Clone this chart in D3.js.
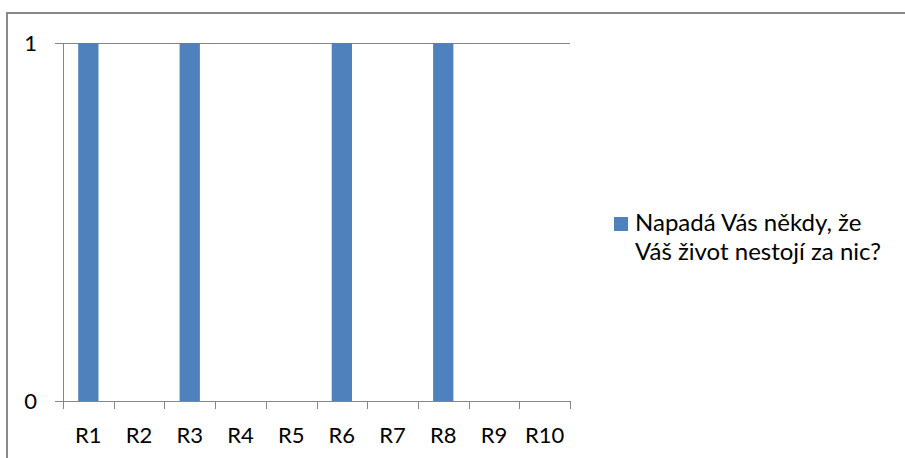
<!DOCTYPE html>
<html>
<head>
<meta charset="utf-8">
<script src="https://cdn.jsdelivr.net/npm/d3@7"></script>
<style>
  body { margin: 0; background: #fff; }
  text { font-family: Lato, "Open Sans", sans-serif; fill: #000; }
</style>
</head>
<body>
<svg id="chart" width="905" height="458"></svg>
<script>
//////////////////////////////////
// DATA
//////////////////////////////////

var categories = ["R1", "R2", "R3", "R4", "R5", "R6", "R7", "R8", "R9", "R10"];
var values = [1, 0, 1, 0, 0, 1, 0, 1, 0, 0];
var yTicks = [0, 1];
var legendLines = ["Napadá Vás někdy, že", "Váš život nestojí za nic?"];

//////////////////////////////////
// SETUP
//////////////////////////////////

var svg = d3.select("#chart");
var plot = {left: 63, right: 570, top: 43, bottom: 401};
var barColor = "#4F81BD";
var lineColor = "#868686";

// outer chart border (cut off at right and bottom in the original)
svg.append("rect")
  .attr("x", 7).attr("y", 13)
  .attr("width", 920).attr("height", 470)
  .attr("fill", "none")
  .attr("stroke", "#898989")
  .attr("stroke-width", 2);

var x = d3.scaleBand()
  .domain(categories)
  .range([plot.left, plot.right])
  .paddingInner(0.6)
  .paddingOuter(0.3);

var y = d3.scaleLinear()
  .domain([0, 1])
  .range([plot.bottom, plot.top]);

// boundaries between categories, for the tick marks
var edge = d3.scaleLinear()
  .domain([0, categories.length])
  .range([plot.left, plot.right]);

//////////////////////////////////
// GRID + AXES
//////////////////////////////////

svg.selectAll(".grid")
  .data(yTicks)
  .enter().append("line")
    .attr("x1", plot.left - 8)
    .attr("x2", plot.right)
    .attr("y1", function(d) { return Math.round(y(d)) + 0.5; })
    .attr("y2", function(d) { return Math.round(y(d)) + 0.5; })
    .attr("stroke", lineColor)
    .attr("stroke-width", 1);

svg.selectAll(".ylab")
  .data(yTicks)
  .enter().append("text")
    .attr("x", 37)
    .attr("y", function(d) { return y(d); })
    .attr("dy", "0.35em")
    .attr("text-anchor", "end")
    .style("font-size", "22px")
    .text(function(d) { return d; });

// bars
svg.selectAll(".bar")
  .data(categories)
  .enter().append("rect")
    .attr("x", function(d) { return x(d); })
    .attr("width", x.bandwidth())
    .attr("y", function(d, i) { return y(values[i]); })
    .attr("height", function(d, i) { return y(0) - y(values[i]); })
    .attr("fill", barColor);

// y axis line
svg.append("line")
  .attr("x1", plot.left + 0.5).attr("x2", plot.left + 0.5)
  .attr("y1", plot.top).attr("y2", plot.bottom)
  .attr("stroke", lineColor);

// x axis line + ticks
svg.append("line")
  .attr("x1", plot.left - 8).attr("x2", plot.right)
  .attr("y1", plot.bottom + 0.5).attr("y2", plot.bottom + 0.5)
  .attr("stroke", lineColor);

svg.selectAll(".xtick")
  .data(d3.range(categories.length + 1))
  .enter().append("line")
    .attr("x1", function(d) { return Math.round(edge(d)) + 0.5; })
    .attr("x2", function(d) { return Math.round(edge(d)) + 0.5; })
    .attr("y1", plot.bottom)
    .attr("y2", plot.bottom + 8)
    .attr("stroke", lineColor);

svg.selectAll(".xlab")
  .data(categories)
  .enter().append("text")
    .attr("x", function(d) { return x(d) + x.bandwidth() / 2; })
    .attr("y", 443)
    .attr("text-anchor", "middle")
    .style("font-size", "22px")
    .text(function(d) { return d; });

//////////////////////////////////
// LEGEND
//////////////////////////////////

svg.append("rect")
  .attr("x", 614).attr("y", 217)
  .attr("width", 14).attr("height", 14)
  .attr("fill", barColor);

svg.selectAll(".leg")
  .data(legendLines)
  .enter().append("text")
    .attr("x", 635)
    .attr("y", function(d, i) { return 231 + i * 29; })
    .style("font-size", "24px")
    .text(function(d) { return d; });
</script>
</body>
</html>
